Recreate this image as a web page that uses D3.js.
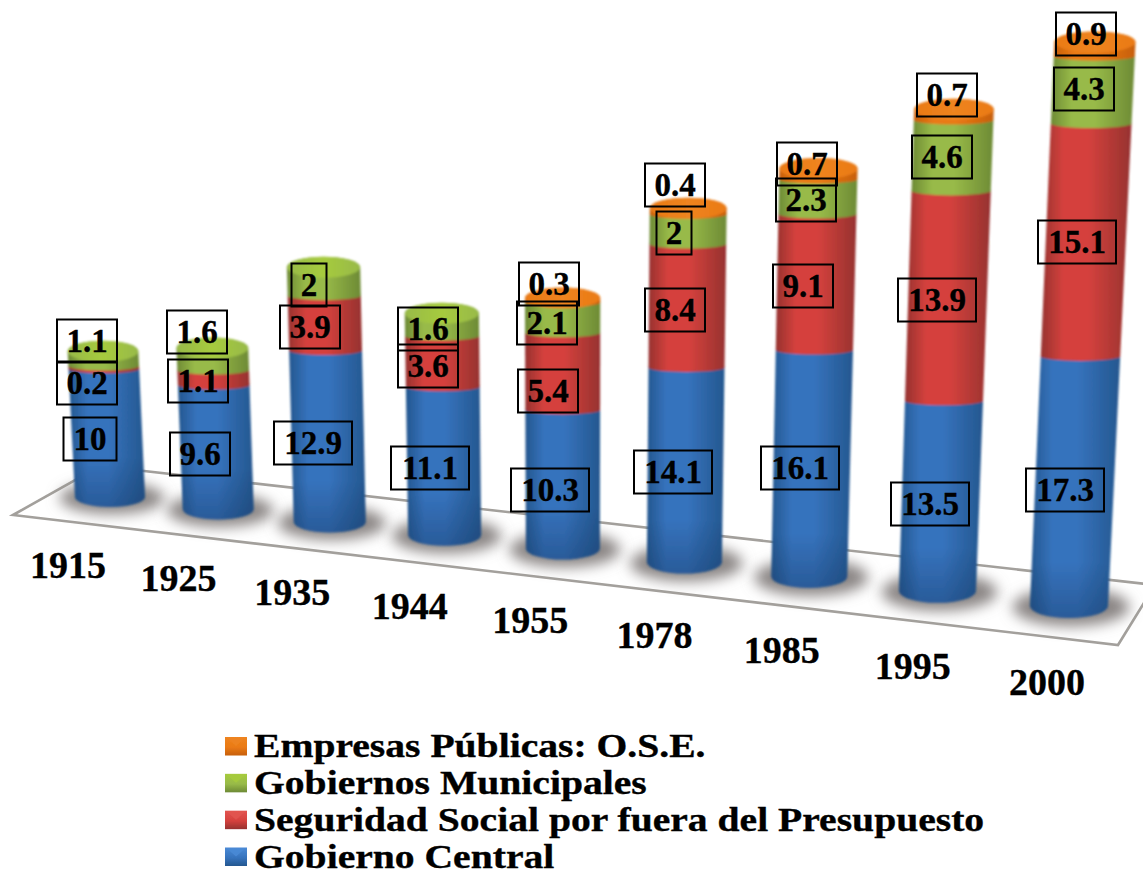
<!DOCTYPE html>
<html>
<head>
<meta charset="utf-8">
<script src="https://cdnjs.cloudflare.com/ajax/libs/d3/7.8.5/d3.min.js"></script>
<style>
html,body{margin:0;padding:0;background:#fff;overflow:hidden}
svg{display:block}
text{font-family:"Liberation Serif",serif;font-weight:bold;fill:#000;stroke:#000;stroke-width:.35px}
</style>
</head>
<body>
<svg id="chart" width="1143" height="875"></svg>
<script>
// ---------- data ----------
const years = ["1915","1925","1935","1944","1955","1978","1985","1995","2000"];
const gobiernoCentral = [10, 9.6, 12.9, 11.1, 10.3, 14.1, 16.1, 13.5, 17.3];
const seguridadSocial = [0.2, 1.1, 3.9, 3.6, 5.4, 8.4, 9.1, 13.9, 15.1];
const gobiernosMunicipales = [1.1, 1.6, 2, 1.6, 2.1, 2, 2.3, 4.6, 4.3];
const empresasPublicas = [null, null, null, null, 0.3, 0.4, 0.7, 0.7, 0.9];
const seriesNames = ["Gobierno Central","Seguridad Social por fuera del Presupuesto","Gobiernos Municipales","Empresas Públicas: O.S.E."];
const seriesValues = [gobiernoCentral, seguridadSocial, gobiernosMunicipales, empresasPublicas];

// ---------- styles ----------
const palettes = [
  {edge:"#24578f", mid:"#3673bd", cap:"#4a8ad6", id:"blue"},
  {edge:"#96322f", mid:"#d5413d", cap:"#e25450", id:"red"},
  {edge:"#6d8a35", mid:"#98ba48", cap:"#a6cb3e", id:"green"},
  {edge:"#c75f0c", mid:"#ea7a14", cap:"#ee8420", id:"orange"}
];

// hand-placed data-label centres in the source figure, per series and year
const labelCentres = [
  [[90,439],[200,454],[313,443],[430,468],[550,490],[673,472],[800,468],[930,504],[1065,490]],
  [[87,383],[198,381],[310,327],[428,366],[548,391],[675,310],[803,286],[937,300],[1077,242]],
  [[87,341],[197,332],[309,285],[428,329],[547,323],[674,233],[806,200],[942,157],[1084,89]],
  [null,null,null,null,[549,284],[675,185],[807,164],[947,95],[1086,34]]
];

// ---------- scales ----------
const svg = d3.select("#chart");
const persp = d3.scalePow().exponent(2).domain([32, 40]);   // receding-plane spacing
const depth = i => i + 32;
const xBase = persp.copy().range([110, 1069]);
const yBase = persp.copy().range([497, 606]);
const xTick = persp.copy().range([68, 1047]);
const yTick = persp.copy().range([578, 695]);
const valueHeight = d3.scalePow().exponent(1.05).domain([0, 37.6]).range([0, 37.6]);
const pxPerUnit = d3.scaleLinear().domain([0, 8]).range([13.7, 15]);
const lean = d3.scaleLinear().domain([0, 8]).range([-0.048, 0.046]);
const rxBase = d3.scaleLinear().domain([0, 8]).range([35, 39]);
const ryBase = d3.scaleLinear().domain([0, 8]).range([10, 12]);
const rxGrow = d3.scaleLinear().domain([0, 563]).range([1, 1.04]);
const ryJoin = 4.5;    // seams between stacked segments look flatter than the base
const ryCap = 10.5;
const baseShadeValue = 3;

function ring(i, v, ry) {
  const h = valueHeight(v) * pxPerUnit(i);
  return {
    x: xBase(depth(i)) + lean(i) * h,
    y: yBase(depth(i)) - h,
    rx: rxBase(i) * rxGrow(h),
    ry: ry
  };
}

// ---------- defs ----------
const defs = svg.append("defs");
palettes.forEach(p => {
  const g = defs.append("linearGradient").attr("id", "side-" + p.id);
  g.selectAll("stop").data([[0,p.edge],[0.25,p.mid],[0.52,p.mid],[1,p.edge]]).join("stop")
    .attr("offset", d => d[0]).attr("stop-color", d => d[1]);
  const c = defs.append("linearGradient").attr("id", "cap-" + p.id);
  c.selectAll("stop").data([[0,p.mid],[0.5,p.cap],[1,p.mid]]).join("stop")
    .attr("offset", d => d[0]).attr("stop-color", d => d[1]);
  const s = defs.append("linearGradient").attr("id", "swatch-" + p.id).attr("x2",0).attr("y2",1);
  s.selectAll("stop").data([[0,p.cap],[0.55,p.mid],[1,p.edge]]).join("stop")
    .attr("offset", d => d[0]).attr("stop-color", d => d[1]);
});
const baseShade = defs.append("linearGradient").attr("id","baseShade").attr("x2",0).attr("y2",1);
baseShade.selectAll("stop").data([[0,0],[1,0.38]]).join("stop")
  .attr("offset", d => d[0]).attr("stop-color","#15345f").attr("stop-opacity", d => d[1]);
const soft = defs.append("filter").attr("id","soft").attr("x","-20%").attr("y","-20%").attr("width","140%").attr("height","140%");
soft.append("feGaussianBlur").attr("stdDeviation",0.9);
const shadowBlur = defs.append("filter").attr("id","shadowBlur").attr("x","-40%").attr("y","-60%").attr("width","180%").attr("height","220%");
shadowBlur.append("feGaussianBlur").attr("stdDeviation",7);
const lineBlur = defs.append("filter").attr("id","lineBlur");
lineBlur.append("feGaussianBlur").attr("stdDeviation",0.6);

// ---------- floor ----------
const floorCorners = [[13,515],[100,466],[1155,585],[1118,645]];
svg.append("path")
  .attr("d", d3.line()(floorCorners) + "Z")
  .attr("fill","#fff").attr("stroke","#a3a09c").attr("stroke-width",2.6)
  .attr("filter","url(#lineBlur)");

// ---------- shadows ----------
svg.append("g").selectAll("ellipse").data(years).join("ellipse")
  .attr("cx", (d,i) => xBase(depth(i)) + 2)
  .attr("cy", (d,i) => yBase(depth(i)) + 1)
  .attr("rx", (d,i) => rxBase(i) * 1.5)
  .attr("ry", (d,i) => ryBase(i) * 1.6)
  .attr("fill","#8a8584").attr("filter","url(#shadowBlur)");

// ---------- cylinders ----------
const sidePath = (a, b) =>
  `M${a.x-a.rx},${a.y}A${a.rx},${a.ry} 0 0 1 ${a.x+a.rx},${a.y}` +
  `L${b.x+b.rx},${b.y}A${b.rx},${b.ry} 0 0 1 ${b.x-b.rx},${b.y}Z`;

const cyl = svg.append("g").attr("filter","url(#soft)");
years.forEach((yr, i) => {
  const g = cyl.append("g");
  let cum = 0, lastS = 0;
  seriesValues.forEach((vals, s) => {
    const v = vals[i];
    if (v == null) return;
    const lo = ring(i, cum, cum === 0 ? ryBase(i) : ryJoin), hi = ring(i, cum + v, ryCap);
    g.append("path").attr("d", sidePath(hi, lo)).attr("fill", `url(#side-${palettes[s].id})`);
    if (cum === 0) {
      g.append("path")
        .attr("d", sidePath(ring(i, baseShadeValue, ryJoin), ring(i, 0, ryBase(i))))
        .attr("fill", "url(#baseShade)");
    }
    cum += v; lastS = s;
  });
  const top = ring(i, cum, ryCap);
  g.append("ellipse").attr("cx",top.x).attr("cy",top.y).attr("rx",top.rx).attr("ry",top.ry)
    .attr("fill", `url(#cap-${palettes[lastS].id})`);
});

// ---------- data labels ----------
const labels = svg.append("g");
seriesValues.forEach((vals, s) => {
  vals.forEach((v, i) => {
    if (v == null) return;
    const [cx, cy] = labelCentres[s][i];
    const txt = String(v);
    const bw = txt.length === 4 ? 78 : txt.length === 3 ? 60 : txt.length === 2 ? 53 : 35;
    const bh = 43;
    labels.append("rect").attr("x", cx - bw/2).attr("y", cy - bh/2).attr("width", bw).attr("height", bh)
      .attr("fill","none").attr("stroke","#000").attr("stroke-width",2);
    labels.append("text").attr("x", cx).attr("y", cy + 11).attr("text-anchor","middle")
      .attr("font-size",33).text(txt);
  });
});

// ---------- year ticks ----------
svg.append("g").selectAll("text").data(years).join("text")
  .attr("x", (d,i) => xTick(depth(i)))
  .attr("y", (d,i) => yTick(depth(i)))
  .attr("text-anchor","middle").attr("font-size",38).text(d => d);

// ---------- legend ----------
const legendOrder = [3,2,1,0];
const legendY = d3.scalePoint().domain(legendOrder).range([757, 867.5]);
const leg = svg.append("g").selectAll("g").data(legendOrder).join("g");
leg.append("rect").attr("x",225).attr("y", d => legendY(d) - 20).attr("width",22).attr("height",18.5)
  .attr("fill", d => `url(#swatch-${palettes[d].id})`).attr("filter","url(#lineBlur)");
leg.append("path")
  .attr("d", d => { const y = legendY(d) - 20; return d3.line()([[227,y+1],[245,y+1],[236,y+9]]) + "Z"; })
  .attr("fill", d => palettes[d].cap).attr("opacity",0.9).attr("filter","url(#lineBlur)");
leg.append("text")
  .attr("transform", d => `translate(254,${legendY(d)}) scale(1.165,1)`)
  .attr("font-size",34)
  .text(d => seriesNames[d]);
</script>
</body>
</html>
